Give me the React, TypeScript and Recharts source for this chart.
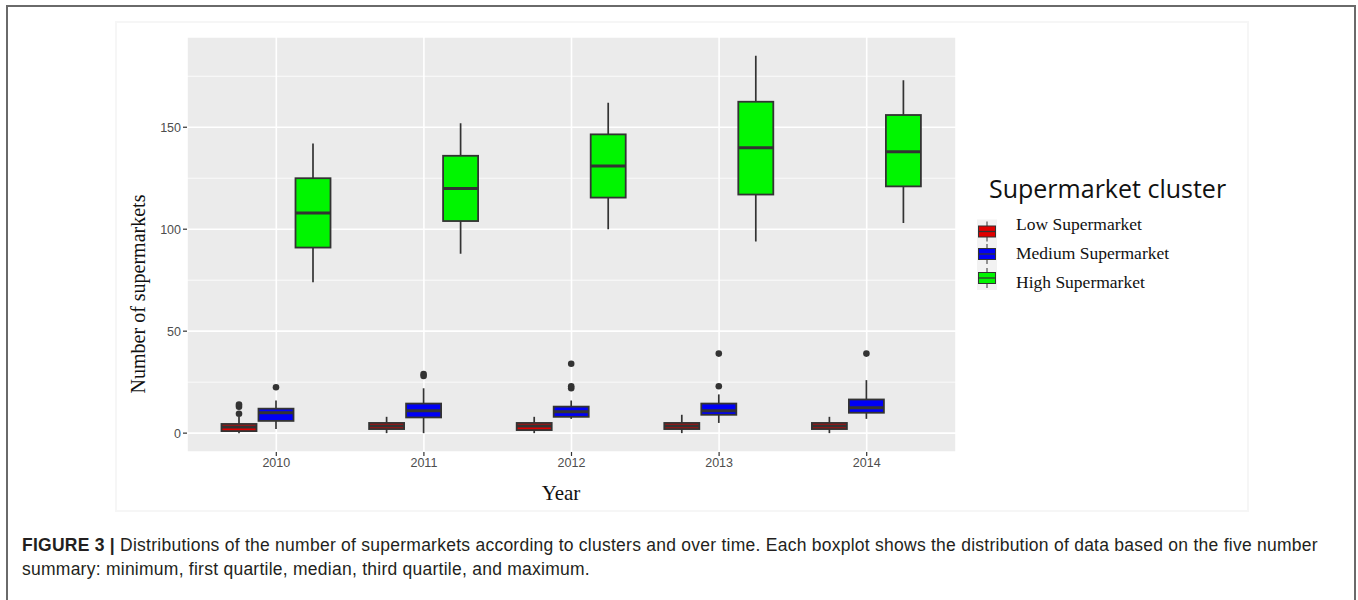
import React from "react";
import { ComposedChart, Bar, XAxis, YAxis, CartesianGrid } from "recharts";

const years = ["2010", "2011", "2012", "2013", "2014"];
const clusters = ["Low Supermarket", "Medium Supermarket", "High Supermarket"];
const clusterKeys = ["low", "medium", "high"];
const clusterColors = ["#E00000", "#0000F5", "#00F500"];

const lowMin = [0, 0, 0, 0, 0];
const lowQ1 = [1, 2, 1.5, 2, 2];
const lowMedian = [3, 3.5, 3.5, 3.5, 3.5];
const lowQ3 = [4.5, 5, 5, 5, 5];
const lowMax = [8, 8, 8, 9, 8];
const lowOutliers = [[9.5, 13, 14], [], [], [], []];

const mediumMin = [2, 0, 7, 5, 7];
const mediumQ1 = [6, 7.7, 8, 9, 10];
const mediumMedian = [10, 11, 10.5, 11, 12.5];
const mediumQ3 = [12, 14.5, 13, 14.5, 16.5];
const mediumMax = [16, 22, 16, 19, 26];
const mediumOutliers = [[22.5], [28, 29], [22, 23, 34], [23, 39], [39]];

const highMin = [74, 88, 100, 94, 103];
const highQ1 = [91, 104, 115.5, 117, 121];
const highMedian = [108, 120, 131, 140, 138];
const highQ3 = [125, 136, 146.5, 162.5, 156];
const highMax = [142, 152, 162, 185, 173];
const highOutliers = [[], [], [], [], []];

const yTicks = [0, 50, 100, 150];
const yMinorTicks = [25, 75, 125, 175];

const toBoxes = (
  min: number[],
  q1: number[],
  median: number[],
  q3: number[],
  max: number[],
  outliers: number[][]
) =>
  years.map((_, i) => ({
    min: min[i],
    q1: q1[i],
    median: median[i],
    q3: q3[i],
    max: max[i],
    outliers: outliers[i],
  }));

const lowBoxes = toBoxes(lowMin, lowQ1, lowMedian, lowQ3, lowMax, lowOutliers);
const mediumBoxes = toBoxes(mediumMin, mediumQ1, mediumMedian, mediumQ3, mediumMax, mediumOutliers);
const highBoxes = toBoxes(highMin, highQ1, highMedian, highQ3, highMax, highOutliers);

const data = years.map((year, i) => ({
  year,
  low: lowBoxes[i],
  medium: mediumBoxes[i],
  high: highBoxes[i],
}));

const INK = "#333333";

// the bar spans q1..q3, so its height gives the y scale for the whiskers
const makeBoxShape = (key: string, color: string) => (props: any) => {
  const { x, y, width, height, index } = props;
  const row = props.payload ?? data[index];
  const s = row[key];
  const top = Math.min(y, y + height);
  const k = Math.abs(height) / (s.q3 - s.q1);
  const py = (v: number) => top + (s.q3 - v) * k;
  const cx = x + width / 2;
  return (
    <g>
      <line x1={cx} x2={cx} y1={py(s.max)} y2={py(s.q3)} stroke={INK} strokeWidth={1.7} />
      <line x1={cx} x2={cx} y1={py(s.q1)} y2={py(s.min)} stroke={INK} strokeWidth={1.7} />
      <rect
        x={x}
        y={py(s.q3)}
        width={width}
        height={py(s.q1) - py(s.q3)}
        fill={color}
        stroke={INK}
        strokeWidth={1.8}
      />
      <line x1={x} x2={x + width} y1={py(s.median)} y2={py(s.median)} stroke={INK} strokeWidth={3} />
      {s.outliers.map((v: number, j: number) => (
        <circle key={j} cx={cx} cy={py(v)} r={3.3} fill={INK} />
      ))}
    </g>
  );
};

const legendRows = [231.5, 254, 278];
const legendBaselines = [229.5, 258.5, 287.5];

export default function App() {
  return (
    <div
      style={{
        position: "absolute",
        left: 0,
        top: 0,
        width: 1358,
        height: 600,
        background: "#fff",
        overflow: "hidden",
      }}
    >
      <div
        style={{
          position: "absolute",
          left: 6,
          top: 5,
          width: 1350,
          height: 640,
          border: "2px solid #6a6a6a",
          boxSizing: "border-box",
        }}
      />
      <div
        style={{
          position: "absolute",
          left: 115,
          top: 21,
          width: 1134,
          height: 491,
          border: "2px solid #f6f6f6",
          boxSizing: "border-box",
        }}
      />
      <div style={{ position: "absolute", left: 0, top: 0 }}>
        <ComposedChart
          width={1358}
          height={520}
          data={data}
          margin={{ top: 37, right: 402, bottom: 38, left: 127 }}
          barSize={35}
          barGap={2}
        >
          <CartesianGrid
            fill="#EBEBEB"
            stroke="#ffffff"
            strokeWidth={0.8}
            vertical={false}
            horizontalValues={yMinorTicks}
          />
          <CartesianGrid stroke="#ffffff" strokeWidth={1.6} />
          <XAxis
            dataKey="year"
            padding={{ left: 15.5, right: 15.5 }}
            interval={0}
            axisLine={false}
            tickLine={{ stroke: INK, strokeWidth: 1.2 }}
            tickSize={4}
            height={30}
            tick={{ fill: "#4D4D4D", fontSize: 12.5, fontFamily: "Liberation Sans" }}
          />
          <YAxis
            type="number"
            domain={[-9.25, 194.25]}
            ticks={yTicks}
            allowDataOverflow
            width={60}
            axisLine={false}
            tickLine={{ stroke: INK, strokeWidth: 1.2 }}
            tickSize={4}
            tick={{ fill: "#4D4D4D", fontSize: 12.5, fontFamily: "Liberation Sans" }}
          />
          {clusterKeys.map((key, i) => (
            <Bar
              key={key}
              dataKey={(row: any) => [row[key].q1, row[key].q3]}
              shape={makeBoxShape(key, clusterColors[i])}
              isAnimationActive={false}
            />
          ))}
        </ComposedChart>
      </div>
      <svg
        width={1358}
        height={600}
        style={{ position: "absolute", left: 0, top: 0, pointerEvents: "none" }}
      >
        <text
          transform="translate(145 294) rotate(-90)"
          textAnchor="middle"
          fontFamily="Liberation Serif"
          fontSize={20}
          fill="#111"
        >
          Number of supermarkets
        </text>
        <text x={561} y={500} textAnchor="middle" fontFamily="Liberation Serif" fontSize={21} fill="#111">
          Year
        </text>
        <text x={989} y={198} fontFamily="Open Sans" fontSize={25} fill="#111">
          Supermarket cluster
        </text>
        {clusters.map((name, i) => {
          const cy = legendRows[i];
          return (
            <g key={name}>
              <rect x={977} y={cy - 12} width={20} height={24} fill="#F2F2F2" />
              <line x1={987} x2={987} y1={cy - 10} y2={cy + 10} stroke={INK} strokeWidth={1} />
              <rect x={978.5} y={cy - 5.5} width={17} height={11} fill={clusterColors[i]} stroke={INK} strokeWidth={1} />
              <line x1={978.5} x2={995.5} y1={cy} y2={cy} stroke={INK} strokeWidth={1.3} />
              <text x={1016} y={legendBaselines[i]} fontFamily="Liberation Serif" fontSize={17.5} fill="#111">
                {name}
              </text>
            </g>
          );
        })}
        <text x={22} y={551} fontFamily="Liberation Sans" fontSize={17.5} letterSpacing={0.25} fill="#231F20">
          <tspan fontWeight="bold">FIGURE 3 |</tspan>
          <tspan> Distributions of the number of supermarkets according to clusters and over time. Each boxplot shows the distribution of data based on the five number</tspan>
        </text>
        <text x={22} y={575} fontFamily="Liberation Sans" fontSize={17.5} letterSpacing={0.25} fill="#231F20">
          summary: minimum, first quartile, median, third quartile, and maximum.
        </text>
      </svg>
    </div>
  );
}
